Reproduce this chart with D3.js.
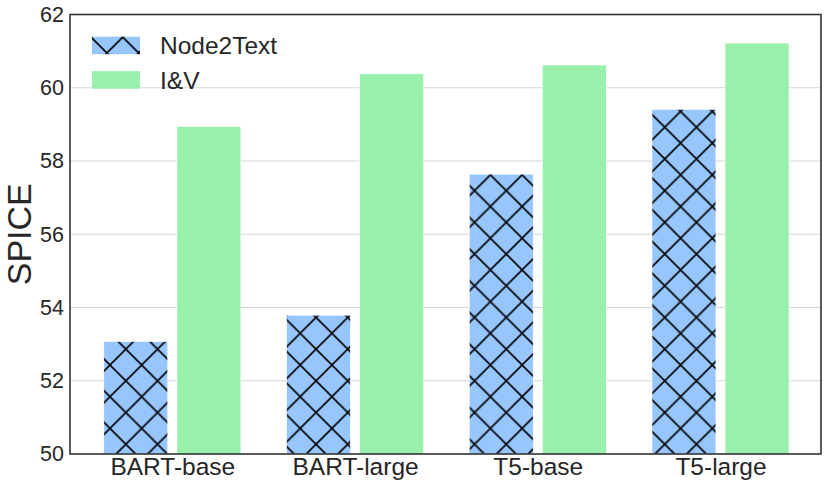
<!DOCTYPE html>
<html>
<head>
<meta charset="utf-8">
<script src="https://cdn.jsdelivr.net/npm/d3@7"></script>
<style>
  body { margin: 0; background: #fff; }
  svg { display: block; font-family: "Liberation Sans", Arial, sans-serif; }
  .tick text { fill: #262626; }
</style>
</head>
<body>
<svg id="chart" width="831" height="484"></svg>
<script>
const categories = ["BART-base", "BART-large", "T5-base", "T5-large"];
const node2text = [53.07, 53.79, 57.64, 59.41];
const iv = [58.94, 60.38, 60.62, 61.22];
const seriesNames = ["Node2Text", "I&V"];
const yTicks = [50, 52, 54, 56, 58, 60, 62];

const width = 831, height = 484;
const margin = {top: 14.5, right: 10, bottom: 30, left: 70};

let chart = d3.select("#chart");

const x = d3.scaleLinear()
  .domain([-0.56, 3.55])
  .range([margin.left, width - margin.right]);
const y = d3.scaleLinear()
  .domain([50, 62])
  .range([height - margin.bottom, margin.top]);

const barW = x(0.35) - x(0);
const offset = 0.2;

// cross hatch, anchored in page space like matplotlib does
const P = 31.7;
const defs = chart.append("defs");
const pat = defs.append("pattern")
  .attr("id", "xhatch")
  .attr("patternUnits", "userSpaceOnUse")
  .attr("x", 110).attr("y", 365)
  .attr("width", P).attr("height", P);
pat.append("rect").attr("width", P).attr("height", P).attr("fill", "#97c6fd");
pat.append("path")
  .attr("d", `M0,0L${P},${P}M0,${P}L${P},0M${-P/2},${P/2}L${P/2},${-P/2}M${P/2},${3*P/2}L${3*P/2},${P/2}M${-P/2},${P/2}L${P/2},${3*P/2}M${P/2},${-P/2}L${3*P/2},${P/2}`)
  .attr("stroke", "#000")
  .attr("stroke-width", 1.6)
  .attr("fill", "none");

// grid
chart.append("g")
  .selectAll("line")
  .data(yTicks.slice(1, -1))
  .join("line")
    .attr("x1", margin.left).attr("x2", width - margin.right)
    .attr("y1", d => y(d)).attr("y2", d => y(d))
    .attr("stroke", "#d6d6d6")
    .attr("stroke-width", 1.2);

// bars
const series = [
  {name: seriesNames[0], values: node2text, dx: -offset, fill: "url(#xhatch)"},
  {name: seriesNames[1], values: iv, dx: offset, fill: "#98f0aa"}
];

series.forEach(s => {
  chart.append("g")
    .selectAll("rect")
    .data(s.values)
    .join("rect")
      .attr("x", (d, i) => x(i + s.dx) - barW / 2)
      .attr("y", d => y(d))
      .attr("width", barW)
      .attr("height", d => y(50) - y(d))
      .attr("fill", s.fill)
      .attr("stroke", "#fff")
      .attr("stroke-width", 0.6);
});

// axes
const yAxis = chart.append("g")
  .attr("transform", `translate(${margin.left},0)`)
  .call(d3.axisLeft(y).tickValues(yTicks).tickSize(0).tickPadding(6));
yAxis.select(".domain").remove();
yAxis.selectAll("text").attr("font-size", 21.5).attr("font-family", "Liberation Sans, Arial, sans-serif");

const xAxis = chart.append("g")
  .attr("transform", `translate(0,${y(50)})`)
  .call(d3.axisBottom(x).tickValues(d3.range(categories.length)).tickFormat(i => categories[i]).tickSize(0).tickPadding(4));
xAxis.select(".domain").remove();
xAxis.selectAll("text").attr("font-size", 24.5).attr("font-family", "Liberation Sans, Arial, sans-serif");

// frame
chart.append("rect")
  .attr("x", margin.left).attr("y", margin.top)
  .attr("width", width - margin.right - margin.left)
  .attr("height", y(50) - margin.top)
  .attr("fill", "none")
  .attr("stroke", "#333")
  .attr("stroke-width", 1.6);

// y label
chart.append("text")
  .attr("transform", `translate(31,${(margin.top + y(50)) / 2}) rotate(-90)`)
  .attr("text-anchor", "middle")
  .attr("font-size", 34)
  .attr("fill", "#262626")
  .text("SPICE");

// legend
const legend = chart.append("g")
  .selectAll("g")
  .data(series)
  .join("g")
    .attr("transform", (d, i) => `translate(92,${36.7 + i * 34.5})`);
legend.append("rect")
  .attr("width", 48).attr("height", 17.5)
  .attr("fill", d => d.fill);
legend.append("text")
  .attr("x", 68).attr("y", 9)
  .attr("dy", "0.35em")
  .attr("font-size", 24.5)
  .attr("fill", "#262626")
  .text(d => d.name);
</script>
</body>
</html>
